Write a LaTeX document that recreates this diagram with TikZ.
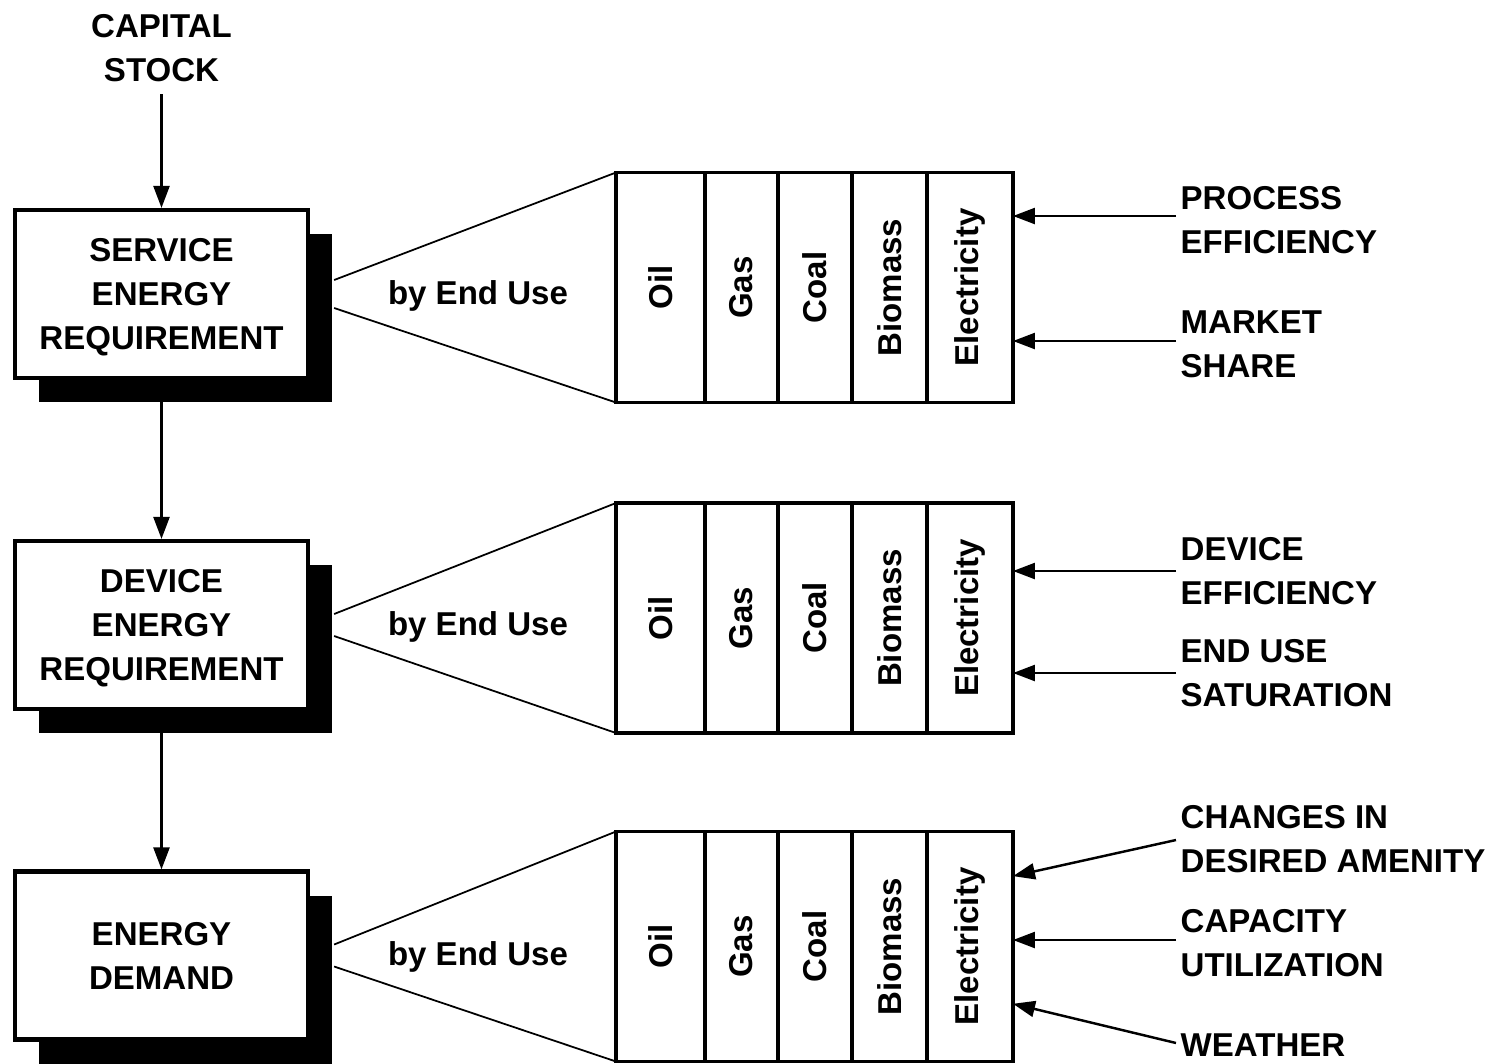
\documentclass[tikz,border=0pt]{standalone}
\usepackage{fontspec}
\setmainfont{Liberation Sans}
\usetikzlibrary{arrows.meta,calc,positioning,shadows}

\begin{document}
\begin{tikzpicture}[
			x=0.1mm, y=-0.1mm,
			every node/.style={font=\fontsize{9.4}{12.5}\selectfont\bfseries},
			stage box/.style={draw, line width=1.2pt, fill=white, align=center,
				minimum width=29.3mm, minimum height=16.8mm, text depth=0pt,
				drop shadow={shadow xshift=2.4mm, shadow yshift=-2.4mm, fill=black, opacity=1}},
			fuel cell/.style={draw, line width=0.9pt, minimum height=23mm, inner sep=0pt, outer sep=0pt},
			factor/.style={anchor=west, align=left, inner xsep=0.4mm},
			fan/.style={line width=0.5pt},
			flow/.style={line width=0.7pt, -{Triangle[width=1.6mm,length=2.2mm]}}
			]
			\useasboundingbox (0,0) rectangle (1507,1063);
			
			% stages
			\node[align=center] (cap) at (161.5,48) {CAPITAL\\STOCK};
			\node[stage box] (ser) at (161.5,294) {SERVICE\\ENERGY\\REQUIREMENT};
			\node[stage box] (dev) at (161.5,625) {DEVICE\\ENERGY\\REQUIREMENT};
			\node[stage box] (dem) at (161.5,955.5) {ENERGY\\DEMAND};
			
			\draw[flow] (cap.south) -- (ser.north);
			\draw[flow] (ser.south) -- (dev.north);
			\draw[flow] (dev.south) -- (dem.north);
			
			% fuel bars
			\foreach \k/\by in {1/287.5, 2/618, 3/946.5} {
				\node[fuel cell, minimum width=8.9mm] (oil\k) at (660.5,\by) {\rotatebox{90}{Oil}};
				\node[fuel cell, minimum width=7.3mm, right=0pt of oil\k] (gas\k) {\rotatebox{90}{Gas}};
				\node[fuel cell, minimum width=7.4mm, right=0pt of gas\k] (coal\k) {\rotatebox{90}{Coal}};
				\node[fuel cell, minimum width=7.5mm, right=0pt of coal\k] (bio\k) {\rotatebox{90}{Biomass}};
				\node[fuel cell, minimum width=8.6mm, right=0pt of bio\k] (elec\k) {\rotatebox{90}{Electricity}};
			}
			
			% by end use
			\node (use1) at (478,296) {by End Use};
			\node (use2) at (478,627) {by End Use};
			\node (use3) at (478,957) {by End Use};
			
			\draw[fan] ([xshift=2.4mm,yshift=1.4mm]ser.east) -- (oil1.north west);
			\draw[fan] ([xshift=2.4mm,yshift=-1.4mm]ser.east) -- (oil1.south west);
			\draw[fan] ([xshift=2.4mm,yshift=1.1mm]dev.east) -- (oil2.north west);
			\draw[fan] ([xshift=2.4mm,yshift=-1.1mm]dev.east) -- (oil2.south west);
			\draw[fan] ([xshift=2.4mm,yshift=1.1mm]dem.east) -- (oil3.north west);
			\draw[fan] ([xshift=2.4mm,yshift=-1.1mm]dem.east) -- (oil3.south west);
			
			% driving factors
			\coordinate (pe) at (1176,216);
			\coordinate (ms) at (1176,341);
			\coordinate (de) at (1176,571);
			\coordinate (eu) at (1176,673);
			\coordinate (ch) at (1176,840);
			\coordinate (cu) at (1176,940);
			\coordinate (we) at (1176,1043);
			
			\node[factor] (pe-l) at (1176,220) {PROCESS\\EFFICIENCY};
			\node[factor] (ms-l) at (1176,344) {MARKET\\SHARE};
			\node[factor] (de-l) at (1176,571) {DEVICE\\EFFICIENCY};
			\node[factor] (eu-l) at (1176,673) {END USE\\SATURATION};
			\node[factor] (ch-l) at (1176,839) {CHANGES IN\\DESIRED AMENITY};
			\node[factor] (cu-l) at (1176,943) {CAPACITY\\UTILIZATION};
			\node[factor] (we-l) at (1176,1045) {WEATHER};
			
			\draw[flow] (pe) -- (pe -| elec1.east);
			\draw[flow] (ms) -- (ms -| elec1.east);
			\draw[flow] (de) -- (de -| elec2.east);
			\draw[flow] (eu) -- (eu -| elec2.east);
			\draw[flow] (ch) -- ($(elec3.north east)!0.194!(elec3.south east)$);
			\draw[flow] (cu) -- (cu -| elec3.east);
			\draw[flow] (we) -- ($(elec3.north east)!0.749!(elec3.south east)$);
		\end{tikzpicture}
\end{document}
